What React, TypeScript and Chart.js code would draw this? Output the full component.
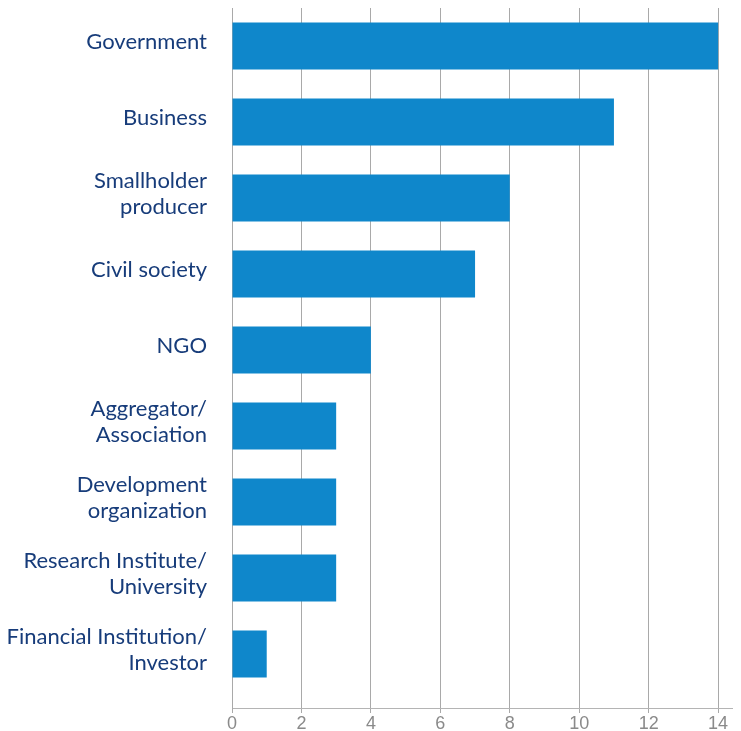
import React, { useEffect, useRef } from "react";
import { Chart, registerables } from "chart.js";

Chart.register(...registerables);

const categories: string[][] = [
  ["Government"],
  ["Business"],
  ["Smallholder", "producer"],
  ["Civil society"],
  ["NGO"],
  ["Aggregator/", "Association"],
  ["Development", "organization"],
  ["Research Institute/", "University"],
  ["Financial Institution/", "Investor"],
];
const counts: number[] = [14, 11, 8, 7, 4, 3, 3, 3, 1];
const xTickValues: number[] = [0, 2, 4, 6, 8, 10, 12, 14];

export default function App() {
  const ref = useRef<HTMLCanvasElement | null>(null);

  useEffect(() => {
    if (!ref.current) return;
    const chart = new Chart(ref.current, {
      type: "bar",
      data: {
        datasets: [
          {
            data: counts.map((v, i) => ({ x: v, y: i })),
            backgroundColor: "#0f87cb",
            borderWidth: 0,
            barPercentage: 0.62,
            categoryPercentage: 1,
          },
        ],
      },
      options: {
        indexAxis: "y",
        animation: false,
        responsive: false,
        maintainAspectRatio: false,
        layout: { padding: { left: 0, right: 1, top: 0, bottom: 0 } },
        plugins: { legend: { display: false }, tooltip: { enabled: false } },
        scales: {
          x: {
            type: "linear",
            min: 0,
            max: 14.4,
            afterBuildTicks: (scale: any) => {
              scale.ticks = xTickValues.map((v) => ({ value: v }));
            },
            afterFit: (scale: any) => {
              scale.height = 30;
              scale.paddingLeft = 0;
              scale.paddingRight = 0;
            },
            grid: {
              color: "#a9a9a9",
              lineWidth: 1,
              tickLength: 5,
              drawTicks: true,
            },
            border: { display: true, color: "#b4b4b4", width: 1 },
            ticks: {
              color: "#8a8a8a",
              padding: 0,
              font: { family: "'Liberation Sans', Arial, sans-serif", size: 18 },
              maxRotation: 0,
            },
          },
          y: {
            type: "linear",
            min: -0.5,
            max: 8.71,
            reverse: true,
            offset: false,
            afterBuildTicks: (scale: any) => {
              scale.ticks = categories.map((_, i) => ({ value: i }));
            },
            afterFit: (scale: any) => {
              scale.width = 224;
              scale.paddingTop = 0;
              scale.paddingBottom = 0;
            },
            grid: { display: false, drawTicks: false, offset: false },
            border: { display: true, color: "#a9a9a9", width: 1 },
            ticks: {
              color: "#173c7a",
              padding: 25,
              labelOffset: -4,
              autoSkip: false,
              font: { family: "Lato, 'Open Sans', sans-serif", size: 22, lineHeight: 1.15 },
              callback: (value: any) => {
                const c = categories[Math.round(Number(value))];
                return c ? c : "";
              },
            },
          },
        },
      },
    });
    return () => chart.destroy();
  }, []);

  return (
    <div style={{ width: 725, height: 723, overflow: "hidden" }}>
      <canvas ref={ref} width={725} height={730} style={{ display: "block" }} />
    </div>
  );
}
